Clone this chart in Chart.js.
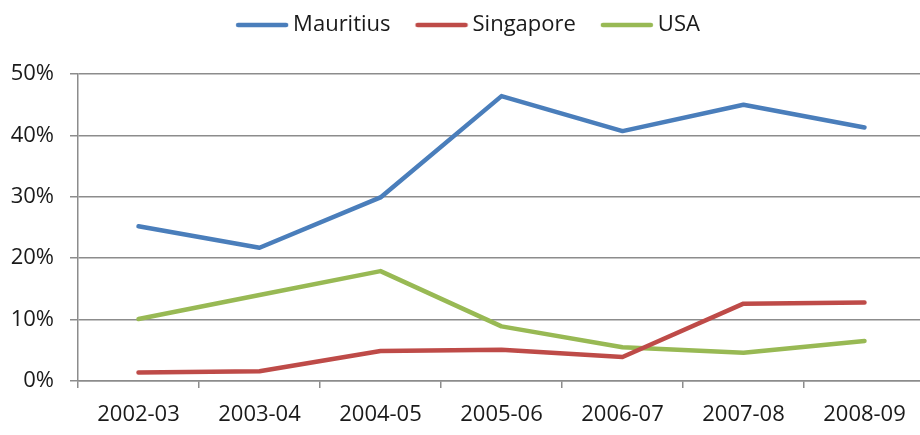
<!DOCTYPE html>
<html>
<head>
<meta charset="utf-8">
<script src="https://cdn.jsdelivr.net/npm/chart.js@4/dist/chart.umd.min.js"></script>
<style>
    html, body { margin: 0; padding: 0; background: #fff; overflow: hidden; }
    #wrap { width: 926px; height: 435px; }
</style>
</head>
<body>
<div id="wrap"><canvas id="chart"></canvas></div>
<script>
// Share of each country (%)
const years = ['2002-03', '2003-04', '2004-05', '2005-06', '2006-07', '2007-08', '2008-09'];
const mauritius = [25.2, 21.7, 29.9, 46.4, 40.7, 45.0, 41.3];
const singapore = [1.4, 1.6, 4.9, 5.1, 3.9, 12.6, 12.8];
const usa = [10.1, 14.0, 17.9, 8.9, 5.5, 4.6, 6.5];

const yTicks = [0, 10, 20, 30, 40, 50];

const gridColor = '#8c8c8c';
const textColor = '#1a1a1a';
const font = { family: '"Open Sans", sans-serif', size: 22 };

// legend marker: a short thick line that sits close to its label
const markerBox = 57;
function legendLine(color) {
    const c = document.createElement('canvas');
    c.width = markerBox + 14;
    c.height = 6;
    const g = c.getContext('2d');
    g.strokeStyle = color;
    g.lineWidth = 4.5;
    g.lineCap = 'round';
    g.beginPath();
    g.moveTo(c.width - 51, 3);
    g.lineTo(c.width - 3, 3);
    g.stroke();
    return c;
}

// make the legend take a fixed amount of space above the plot
const legendSpace = {
    id: 'legendSpace',
    beforeInit(chart) {
        const fit = chart.legend.fit;
        chart.legend.fit = function () {
            fit.bind(chart.legend)();
            this.height = 74;
        };
    }
};

function line(label, data, color) {
    return {
        label: label,
        data: data,
        borderColor: color,
        backgroundColor: color,
        borderWidth: 4.5,
        pointRadius: 0,
        pointStyle: legendLine(color),
        tension: 0,
        borderJoinStyle: 'round',
        borderCapStyle: 'round'
    };
}

const ctx = document.getElementById('chart').getContext('2d');
new Chart(ctx, {
    type: 'line',
    data: {
        labels: years,
        datasets: [
            line('Mauritius', mauritius, '#4a7ebb'),
            line('Singapore', singapore, '#be4b48'),
            line('USA', usa, '#98b954')
        ]
    },
    plugins: [legendSpace],
    options: {
        responsive: true,
        maintainAspectRatio: false,
        animation: false,
        layout: { padding: { left: 0, right: 1, top: 0, bottom: 0 } },
        plugins: {
            legend: {
                position: 'top',
                labels: {
                    usePointStyle: true,
                    pointStyleWidth: markerBox,
                    boxHeight: 6,
                    padding: 14,
                    color: textColor,
                    font: font
                }
            },
            tooltip: { enabled: false }
        },
        scales: {
            x: {
                offset: true,
                grid: {
                    offset: true,
                    drawOnChartArea: false,
                    color: gridColor,
                    lineWidth: 1.5,
                    tickLength: 7
                },
                border: { color: gridColor, width: 1.5 },
                ticks: { color: textColor, font: font, padding: 14, maxRotation: 0 },
                afterFit(scale) { scale.height = 54; }
            },
            y: {
                min: 0,
                max: 50,
                afterBuildTicks(scale) {
                    scale.ticks = yTicks.map(v => ({ value: v }));
                },
                grid: {
                    color: gridColor,
                    lineWidth: 1.5,
                    tickLength: 8
                },
                border: { color: gridColor, width: 1.5 },
                ticks: {
                    color: textColor,
                    font: font,
                    padding: 16,
                    callback: v => v + '%'
                },
                afterFit(scale) { scale.width = 78; }
            }
        }
    }
});
</script>
</body>
</html>
